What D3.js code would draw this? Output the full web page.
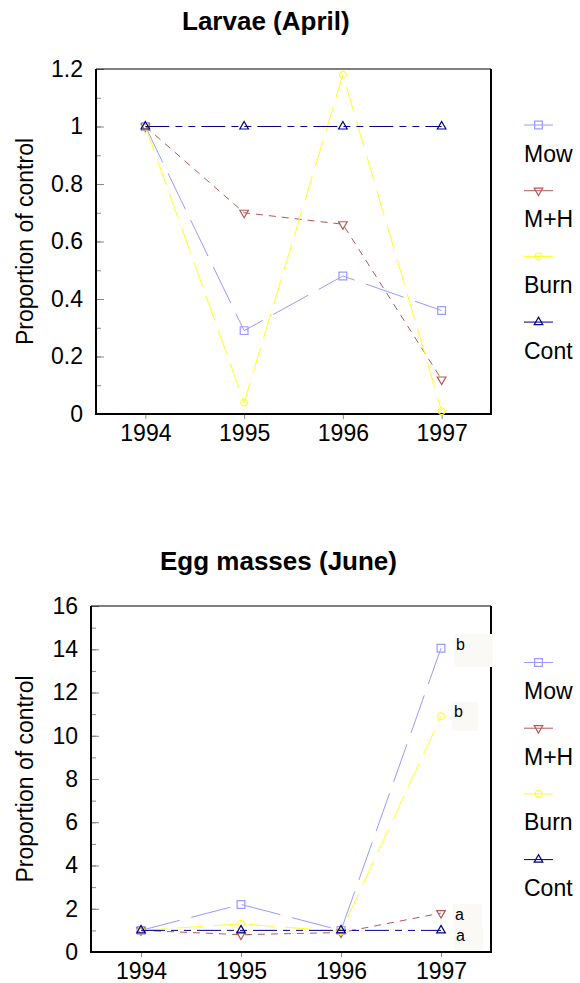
<!DOCTYPE html>
<html>
<head>
<meta charset="utf-8">
<script src="https://cdn.jsdelivr.net/npm/d3@7"></script>
<style>
  body { margin: 0; background: #fff; }
  svg { font-family: "Liberation Sans", Arial, sans-serif; }
</style>
</head>
<body>
<script>
const years = [1994, 1995, 1996, 1997];
const seriesNames = ["Mow", "M+H", "Burn", "Cont"];

// Larvae (April)
const larvaeMow  = [1, 0.29, 0.48, 0.36];
const larvaeMH   = [1, 0.70, 0.66, 0.12];
const larvaeBurn = [1, 0.04, 1.18, 0.01];
const larvaeCont = [1, 1, 1, 1];
const larvaeTicks = [0, 0.2, 0.4, 0.6, 0.8, 1, 1.2];

// Egg masses (June)
const eggMow  = [1, 2.2, 1.0, 14.05];
const eggMH   = [1, 0.8, 0.9, 1.8];
const eggBurn = [1, 1.3, 0.95, 10.9];
const eggCont = [1, 1, 1, 1];
const eggTicks = [0, 2, 4, 6, 8, 10, 12, 14, 16];
const eggLetters = ["b", "a", "b", "a"];

const styles = {
  "Mow":  {color: "#9a9aff", dash: "40,12", sym: "square"},
  "M+H":  {color: "#b25858", dash: "7,6", sym: "down"},
  "Burn": {color: "#ffff20", dash: "26,10", sym: "circle"},
  "Cont": {color: "#000088", dash: "24,6,7,6,7,6", sym: "up"}
};

const svg = d3.select("body").append("svg")
    .attr("width", 580)
    .attr("height", 983);

function marker(g, name, cx, cy) {
  let s = styles[name], path;
  if (s.sym == "square") path = d3.symbol(d3.symbolSquare, 60)();
  else if (s.sym == "circle") path = d3.symbol(d3.symbolCircle, 36)();
  else path = d3.symbol(d3.symbolTriangle, 32)();
  g.append("path")
      .attr("d", path)
      .attr("transform", `translate(${cx},${cy})` + (s.sym == "down" ? " rotate(180)" : ""))
      .attr("fill", "none")
      .attr("stroke", s.color)
      .attr("stroke-width", 1.2);
}

function drawChart(opt) {
  const g = svg.append("g");
  const x = d3.scaleLinear().domain([1993.5, 1997.5]).range([opt.left, opt.right]);
  const y = d3.scaleLinear().domain([0, opt.max]).range([opt.bottom, opt.top]);

  g.append("text")
      .attr("x", opt.titleX)
      .attr("y", opt.titleY)
      .style("font-size", "26px")
      .style("font-weight", "bold")
      .text(opt.title);

  // minor ticks
  g.append("g")
      .attr("transform", `translate(${opt.left},0)`)
      .call(d3.axisLeft(y).tickValues(d3.range(0, opt.max + opt.minor / 2, opt.minor))
        .tickSizeInner(-5).tickSizeOuter(0).tickFormat(""))
      .call(a => a.select(".domain").remove())
      .call(a => a.selectAll("line").attr("stroke", "#888"));

  // major ticks
  g.append("g")
      .attr("transform", `translate(${opt.left},0)`)
      .call(d3.axisLeft(y).tickValues(opt.ticks).tickSizeInner(-8).tickSizeOuter(0)
        .tickPadding(13).tickFormat(d3.format("~g")))
      .call(a => a.select(".domain").remove())
      .call(a => a.selectAll("line").attr("stroke", "#888"))
      .call(a => a.selectAll("text").attr("fill", "#000").style("font-size", "23px")
        .attr("font-family", null));

  g.append("g")
      .attr("transform", `translate(0,${opt.bottom})`)
      .call(d3.axisBottom(x).tickValues(years).tickSizeInner(5).tickSizeOuter(0)
        .tickPadding(6).tickFormat(d3.format("d")))
      .call(a => a.select(".domain").remove())
      .call(a => a.selectAll("line").attr("stroke", "#888"))
      .call(a => a.selectAll("text").attr("fill", "#000").style("font-size", "23px")
        .attr("font-family", null));

  g.append("text")
      .attr("transform", `translate(33,${(opt.top + opt.bottom) / 2}) rotate(-90)`)
      .attr("text-anchor", "middle")
      .style("font-size", "23px")
      .text("Proportion of control");

  // frame
  g.append("line").attr("x1", opt.left).attr("x2", opt.right).attr("y1", opt.top).attr("y2", opt.top)
      .attr("stroke", "#000").attr("stroke-width", 1.2);
  g.append("line").attr("x1", opt.right).attr("x2", opt.right).attr("y1", opt.top).attr("y2", opt.bottom)
      .attr("stroke", "#000").attr("stroke-width", 2);
  g.append("line").attr("x1", opt.left).attr("x2", opt.left).attr("y1", opt.top).attr("y2", opt.bottom + 1)
      .attr("stroke", "#000").attr("stroke-width", 2);
  g.append("line").attr("x1", opt.left - 1).attr("x2", opt.right + 1).attr("y1", opt.bottom).attr("y2", opt.bottom)
      .attr("stroke", "#000").attr("stroke-width", 2);

  // letter boxes
  if (opt.letters) {
    opt.letters.forEach(b => {
      g.append("rect")
          .attr("x", b.x).attr("y", b.y).attr("width", b.w).attr("height", b.h)
          .attr("fill", "#faf9f6");
      g.append("text")
          .attr("x", b.x + 2).attr("y", b.base)
          .style("font-size", "16px")
          .text(b.t);
    });
  }

  const line = d3.line().x((d, i) => x(years[i])).y(d => y(d));
  opt.series.forEach((vals, k) => {
    const name = seriesNames[k], s = styles[name];
    g.append("path")
        .attr("d", line(vals))
        .attr("fill", "none")
        .attr("stroke", s.color)
        .attr("stroke-width", 1)
        .attr("stroke-dasharray", s.dash);
    vals.forEach((v, i) => marker(g, name, x(years[i]), y(v)));
  });

  // legend
  seriesNames.forEach((name, k) => {
    const ly = opt.legendY + k * 65.7;
    g.append("line")
        .attr("x1", 524).attr("x2", 553).attr("y1", ly).attr("y2", ly)
        .attr("stroke", styles[name].color).attr("stroke-width", 1);
    marker(g, name, 538.5, ly);
    g.append("text")
        .attr("x", 524).attr("y", ly + 36.5)
        .style("font-size", "23px")
        .text(name);
  });
}

drawChart({
  title: "Larvae (April)", titleX: 182, titleY: 30,
  left: 96, right: 491, top: 69, bottom: 414,
  max: 1.2, minor: 0.1, ticks: larvaeTicks,
  series: [larvaeMow, larvaeMH, larvaeBurn, larvaeCont],
  legendY: 125
});

drawChart({
  title: "Egg masses (June)", titleX: 160, titleY: 570,
  left: 91, right: 491, top: 606, bottom: 952,
  max: 16, minor: 1, ticks: eggTicks,
  series: [eggMow, eggMH, eggBurn, eggCont],
  legendY: 662.5,
  letters: [
    {t: eggLetters[0], x: 454, y: 634, w: 39, h: 33, base: 650},
    {t: eggLetters[2], x: 452, y: 702, w: 26, h: 29, base: 717},
    {t: eggLetters[1], x: 453, y: 904, w: 29, h: 22, base: 920},
    {t: eggLetters[3], x: 454, y: 926, w: 29, h: 24, base: 941}
  ]
});
</script>
</body>
</html>
